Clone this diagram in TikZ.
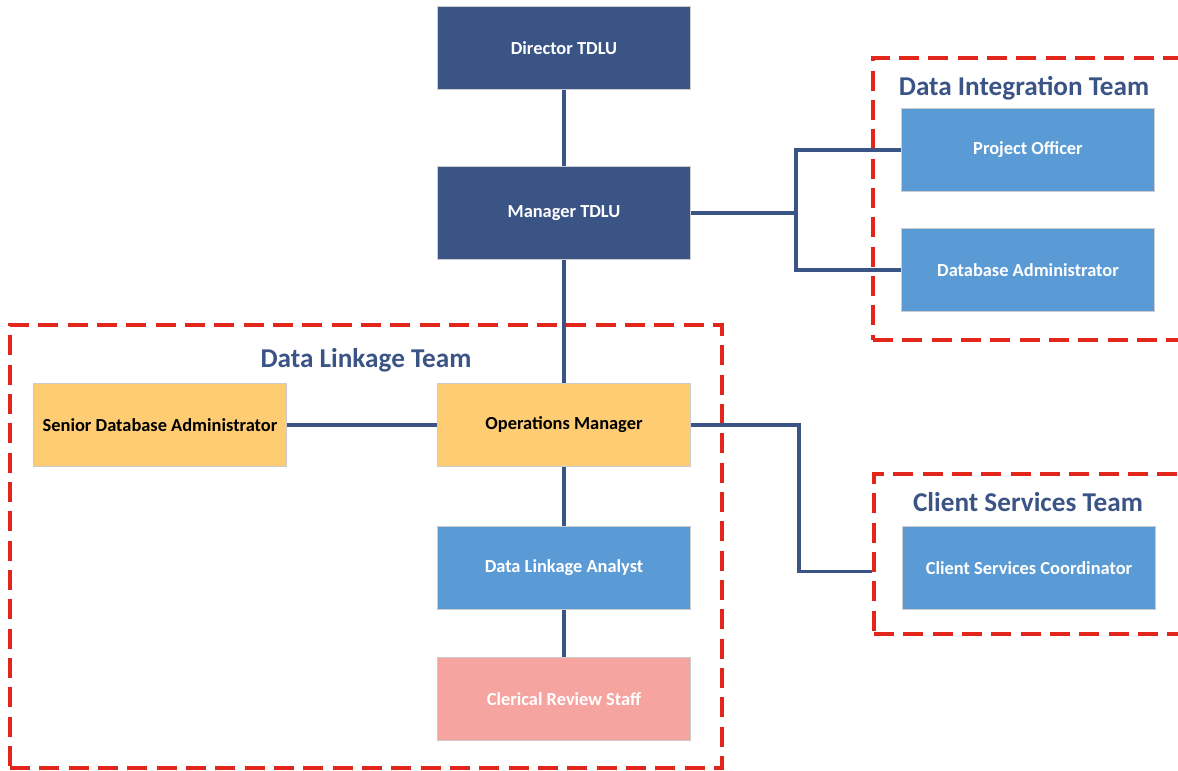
\documentclass[tikz,border=0pt]{standalone}
\usepackage{fontspec}
\setmainfont{Carlito}
\usetikzlibrary{fit}
\definecolor{navy}{HTML}{3B5486}
\definecolor{skyblue}{HTML}{5B9BD5}
\definecolor{peach}{HTML}{FECC72}
\definecolor{salmon}{HTML}{F5A49F}
\definecolor{teamred}{HTML}{E3261C}
\begin{document}
\begin{tikzpicture}[x=0.75pt,y=-0.75pt,
  role/.style={rectangle, draw=black!20, line width=0.6pt, inner sep=0pt,
    minimum width=190pt, minimum height=62pt, text=white,
    font=\bfseries\fontsize{13.8}{16}\selectfont},
  navybox/.style={role, fill=navy},
  bluebox/.style={role, fill=skyblue},
  peachbox/.style={role, fill=peach, text=black},
  salmonbox/.style={role, fill=salmon},
  teamframe/.style={draw=teamred, line width=2.6pt, dash pattern=on 15pt off 7pt, inner sep=0pt},
  teamtitle/.style={text=navy, font=\bfseries\fontsize{20.4}{24}\selectfont},
  link/.style={draw=navy, line width=2.4pt}]
\useasboundingbox (0,0) rectangle (1178,771);
% team frames
\node [teamframe, fit={(10,325) (722,768)}] (dlt) {};
\node [teamframe, fit={(873,58) (1195,340)}] (dit) {};
\node [teamframe, fit={(874,474) (1195,634)}] (cst) {};
\node [teamtitle] (dlttitle) at (366,360) {Data Linkage Team};
\node [teamtitle] (dittitle) at (1024,88) {Data Integration Team};
\node [teamtitle] (csttitle) at (1028,502) {Client Services Team};
% roles
\node [navybox] (director) at (564,48) {Director TDLU};
\node [navybox, minimum height=70pt] (manager) at (564,213) {Manager TDLU};
\node [bluebox] (project) at (1028,150) {Project Officer};
\node [bluebox] (dbadmin) at (1028,270) {Database Administrator};
\node [peachbox] (senior) at (160,425) {Senior Database Administrator};
\node [peachbox] (ops) at (564,425) {Operations Manager};
\node [bluebox] (analyst) at (564,568) {Data Linkage Analyst};
\node [salmonbox] (clerical) at (564,699) {Clerical Review Staff};
\node [bluebox] (coord) at (1029,568) {Client Services Coordinator};
% connectors
\draw [link] (director) -- (manager);
\draw [link] (manager) -- (ops);
\draw [link] (ops) -- (analyst);
\draw [link] (analyst) -- (clerical);
\draw [link] (senior) -- (ops);
\draw [link] (manager.east) -- ++(105,0) coordinate (fork);
\draw [link] (project.west) -| (fork) |- (dbadmin.west);
\draw [link] (ops.east) -- ++(108,0) |- ([yshift=-2.5pt]cst.west |- coord.west);
\end{tikzpicture}
\end{document}
